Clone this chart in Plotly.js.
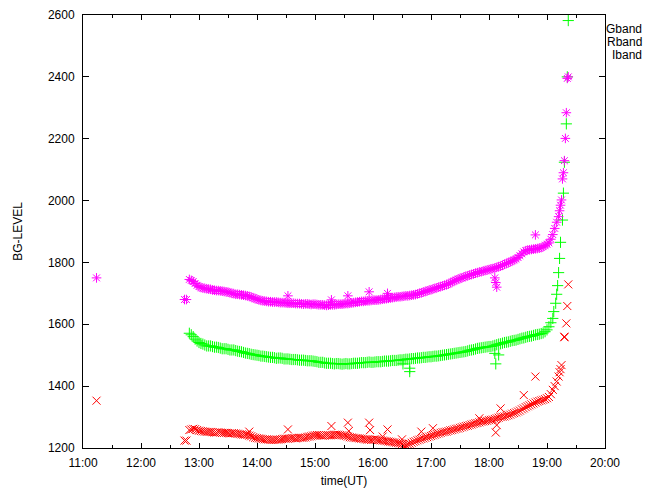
<!DOCTYPE html>
<html><head><meta charset="utf-8">
<script src="https://cdn.plot.ly/plotly-3.0.1.min.js"></script>
<style>html,body{margin:0;padding:0;background:#fff}#chart{width:650px;height:490px}</style>
</head><body><div id="chart"></div>
<script>
const day = '2000-01-01 ';
const times = ["12:50","12:54","12:58","13:02","13:06","13:10","13:14","13:18","13:22","13:26","13:30","13:34","13:38","13:42","13:46","13:50","13:54","13:58",
"14:02","14:06","14:10","14:14","14:18","14:22","14:26","14:30","14:34","14:38","14:42","14:46","14:50","14:54","14:58",
"15:02","15:06","15:10","15:14","15:18","15:22","15:26","15:30","15:34","15:38","15:42","15:46","15:50","15:54","15:58",
"16:02","16:06","16:10","16:14","16:18","16:22","16:26","16:30","16:34","16:38","16:42","16:46","16:50","16:54","16:58",
"17:02","17:06","17:10","17:14","17:18","17:22","17:26","17:30","17:34","17:38","17:42","17:46","17:50","17:54","17:58",
"18:02","18:06","18:10","18:14","18:18","18:22","18:26","18:30","18:34","18:38","18:42","18:46","18:50","18:54","18:58",
"19:02","19:06"];
const gband = [1571,1560,1546,1538,1533,1530,1528,1526,1523,1521,1519,1517,1515,1512,1509,1506,1503,1501,
1499,1497,1495,1493,1492,1491,1490,1488,1487,1486,1485,1484,1483,1482,1481,
1479,1477,1475,1474,1473,1473,1472,1472,1472,1473,1474,1475,1476,1477,1477,
1478,1479,1480,1481,1482,1483,1484,1485,1487,1488,1489,1491,1492,1493,1495,
1496,1497,1499,1501,1503,1505,1507,1509,1511,1514,1517,1520,1523,1525,1527,
1528,1532,1536,1539,1542,1545,1548,1551,1555,1558,1561,1564,1567,1570,1576,
1592,1619];
const rband = [1258,1262,1258,1255,1253,1252,1251,1250,1250,1249,1248,1248,1247,1245,1243,1242,1238,1233,
1231,1229,1228,1226,1226,1227,1229,1230,1231,1232,1232,1233,1234,1237,1240,
1242,1241,1240,1241,1242,1243,1242,1240,1237,1234,1232,1231,1229,1227,1226,
1228,1226,1224,1222,1220,1218,1216,1213,1210,1214,1220,1225,1229,1233,1237,
1241,1245,1249,1252,1255,1258,1262,1265,1269,1272,1276,1280,1283,1286,1288,
1291,1294,1298,1301,1304,1308,1313,1318,1325,1332,1338,1344,1350,1354,1358,
1365,1388];
const iband = [1745,1738,1726,1719,1716,1714,1711,1709,1708,1706,1704,1700,1697,1696,1694,1692,1688,1683,
1679,1676,1674,1673,1672,1671,1670,1669,1668,1668,1667,1666,1666,1665,1665,
1664,1663,1662,1662,1663,1664,1665,1666,1667,1669,1671,1673,1674,1676,1677,
1678,1679,1681,1683,1685,1687,1689,1690,1692,1693,1695,1698,1702,1706,1710,
1714,1718,1722,1726,1730,1737,1743,1748,1753,1757,1761,1765,1769,1772,1775,
1779,1782,1786,1791,1797,1802,1808,1816,1828,1838,1841,1843,1845,1848,1855,
1863,1890];
const times2 = ["12:52","12:56","13:00","13:04","13:08","13:12","13:16","13:20","13:24","13:28","13:32","13:36","13:40","13:44","13:48","13:52","13:56","14:00",
"14:04","14:08","14:12","14:16","14:20","14:24","14:28","14:32","14:36","14:40","14:44","14:48","14:52","14:56","15:00",
"15:04","15:08","15:12","15:16","15:20","15:24","15:28","15:32","15:36","15:40","15:44","15:48","15:52","15:56","16:00",
"16:04","16:08","16:12","16:16","16:20","16:24","16:28","16:32","16:36","16:40","16:44","16:48","16:52","16:56","17:00",
"17:04","17:08","17:12","17:16","17:20","17:24","17:28","17:32","17:36","17:40","17:44","17:48","17:52","17:56","18:00",
"18:04","18:08","18:12","18:16","18:20","18:24","18:28","18:32","18:36","18:40","18:44","18:48","18:52","18:56","19:00",
"19:04"];
const gband2 = [1566,1552,1541,1536,1530,1530,1526,1525,1521,1521,1517,1517,1513,1511,1507,1505,1502,1500,
1497,1496,1494,1493,1490,1491,1488,1488,1486,1486,1484,1484,1482,1482,1480,
1477,1477,1474,1474,1472,1473,1471,1473,1472,1474,1474,1476,1476,1478,1477,
1479,1479,1481,1481,1483,1483,1485,1486,1487,1489,1490,1491,1493,1494,1495,
1497,1498,1500,1502,1504,1506,1508,1510,1512,1516,1518,1522,1524,1526,1528,
1530,1534,1537,1541,1543,1547,1549,1553,1556,1560,1562,1566,1568,1572,1582,
1605];
const rband2 = [1260,1261,1256,1254,1252,1252,1250,1251,1249,1249,1247,1248,1246,1244,1243,1240,1235,1232,
1230,1228,1227,1226,1227,1228,1230,1230,1232,1231,1233,1233,1236,1238,1241,
1242,1240,1241,1241,1243,1243,1241,1239,1235,1233,1232,1230,1228,1227,1227,
1227,1225,1223,1221,1219,1217,1215,1211,1212,1217,1222,1227,1231,1235,1239,
1243,1247,1251,1253,1257,1260,1263,1267,1271,1274,1278,1281,1285,1287,1290,
1292,1296,1300,1302,1306,1311,1315,1321,1328,1335,1341,1347,1352,1356,1361,
1374];
const iband2 = [1742,1732,1722,1717,1715,1713,1710,1709,1707,1705,1702,1699,1697,1695,1693,1690,1686,1681,
1677,1675,1673,1672,1672,1670,1670,1668,1668,1667,1667,1665,1666,1664,1665,
1663,1663,1661,1663,1663,1665,1665,1667,1668,1670,1672,1674,1675,1676,1678,
1678,1680,1682,1684,1686,1688,1689,1691,1692,1694,1696,1700,1704,1708,1712,
1716,1720,1724,1728,1734,1740,1746,1750,1755,1759,1763,1767,1770,1774,1777,
1780,1784,1788,1794,1799,1805,1812,1822,1834,1840,1842,1844,1846,1851,1859,
1875];
const gTailT = ["19:07","19:09","19:10","19:11","19:12","19:13","19:14","19:16","19:17","19:18","19:20","19:21","19:22"];
const gTailV = [1641,1668,1697,1725,1767,1813,1865,1937,2024,2124,2248,2400,2582];
const rTailT = ["19:08","19:10","19:12","19:13","19:14","19:15"];
const rTailV = [1400,1415,1431,1445,1455,1468];
const iTailT = ["19:08","19:10","19:12","19:13","19:14","19:15","19:16","19:17","19:18","19:19","19:20","19:21","19:22"];
const iTailV = [1910,1930,1948,1967,1985,2002,2070,2090,2129,2201,2284,2395,2400];
const gOutT = ["16:31","16:38","16:38","18:06","18:07","18:10"];
const gOutV = [1472,1458,1447,1506,1472,1501];
const rOutT = ["11:14","12:45","12:47","13:52","14:32","15:17","15:34","15:35","15:56","15:57","16:10","16:15","16:30","16:50","17:02","17:50","18:07","18:08","18:12","18:36","18:48","19:18","19:18","19:20","19:21","19:22"];
const rOutV = [1353,1224,1224,1253,1260,1271,1282,1255,1282,1258,1237,1260,1228,1253,1264,1296,1250,1274,1328,1371,1431,1558,1560,1603,1659,1729];
const iOutT = ["11:14","12:45","12:47","14:32","15:17","15:34","15:56","16:15","18:06","18:07","18:08","18:48"];
const iOutV = [1750,1680,1680,1692,1679,1692,1705,1700,1750,1735,1720,1889];
const bandNames = ["Gband","Rband","Iband"];

const toX = arr => arr.map(t => day + t);
function tr(name, tt, vv, color, symbol) {
  return {type:'scatter', mode:'markers', name:name, x: toX(tt), y: vv,
    marker:{symbol:symbol, size:8, color:color, line:{color:color, width:1}}, showlegend:false, hoverinfo:'skip'};
}
const data = [
  tr(bandNames[0], [...times, ...times2, ...gTailT, ...gOutT], [...gband, ...gband2, ...gTailV, ...gOutV], '#00ff00', 'cross-thin-open'),
  tr(bandNames[1], [...times, ...times2, ...rTailT, ...rOutT], [...rband, ...rband2, ...rTailV, ...rOutV], '#ff0000', 'x-thin-open'),
  tr(bandNames[2], [...times, ...times2, ...iTailT, ...iOutT], [...iband, ...iband2, ...iTailV, ...iOutV], '#ff00ff', 'asterisk-open')
];
const font = {family:'"Liberation Sans", Arial, sans-serif', size:12, color:'#000'};
const layout = {
  width:650, height:490, margin:{l:83, r:45, t:15, b:42},
  paper_bgcolor:'#fff', plot_bgcolor:'#fff', font:font, showlegend:false,
  xaxis:{type:'date', range:[day+'11:00', day+'20:00'], tick0: day+'11:00', dtick:3600000, tickformat:'%H:%M',
    showgrid:false, zeroline:false, showline:true, linecolor:'#000', linewidth:1, mirror:'ticks',
    ticks:'inside', ticklen:5, tickcolor:'#000', ticklabelstandoff:4,
    minor:{dtick:1800000, ticks:'inside', ticklen:3, tickcolor:'#000', showgrid:false},
    title:{text:'time(UT)', font:font, standoff:7}},
  yaxis:{range:[1200,2600], dtick:200, showgrid:false, zeroline:false, showline:true, linecolor:'#000', linewidth:1,
    mirror:'ticks', ticks:'inside', ticklen:6, tickcolor:'#000', ticklabelstandoff:5,
    title:{text:'BG-LEVEL', font:font, standoff:22}},
  annotations: bandNames.map((n,i) => ({text:n, xref:'paper', yref:'paper', x:(644-83)/522, y:(448-29-13*i)/433,
    xanchor:'right', yanchor:'middle', showarrow:false, font:font}))
};
Plotly.newPlot('chart', data, layout, {staticPlot:true, displayModeBar:false});
</script></body></html>
